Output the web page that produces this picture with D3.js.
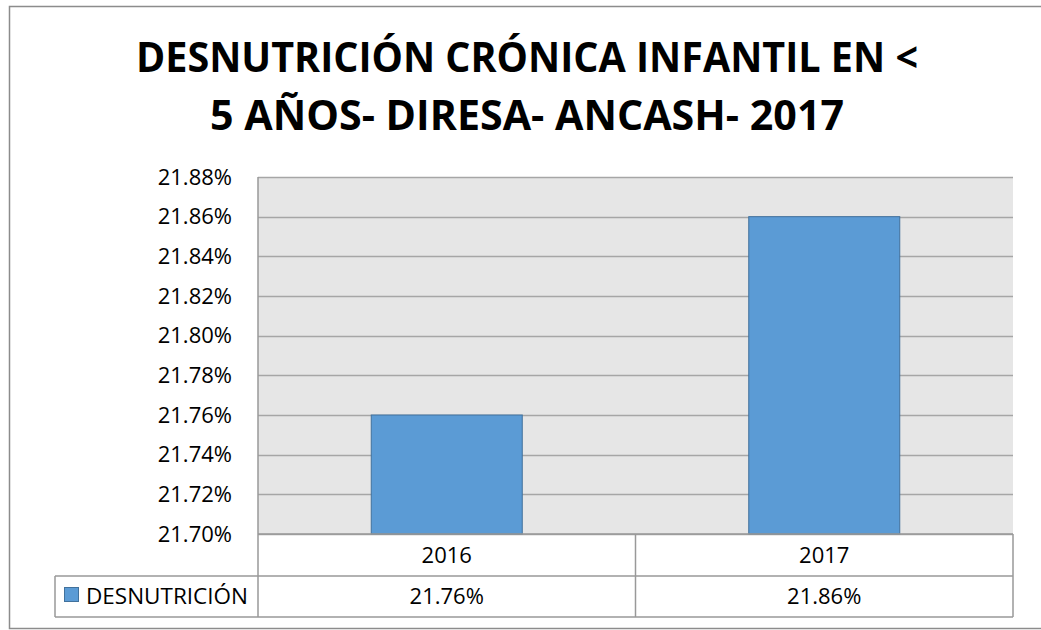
<!DOCTYPE html>
<html><head><meta charset="utf-8">
<script src="https://cdn.jsdelivr.net/npm/d3@7"></script>
<style>
html,body{margin:0;padding:0;background:#fff;}
svg{display:block;}
text{font-family:"Open Sans","Lato","Liberation Sans",sans-serif;fill:#000;}
</style></head>
<body>
<script>
const titleLines = ["DESNUTRICIÓN CRÓNICA INFANTIL EN <", "5 AÑOS- DIRESA- ANCASH- 2017"];
const seriesName = "DESNUTRICIÓN";
const categories = ["2016", "2017"];
const values = [0.2176, 0.2186];
const tickValues = [0.2170, 0.2172, 0.2174, 0.2176, 0.2178, 0.2180, 0.2182, 0.2184, 0.2186, 0.2188];

const W = 1041, H = 630;
const FS = "22px";
const svg = d3.select("body").append("svg").attr("width", W).attr("height", H);

// outer chart border
svg.append("rect").attr("x", 9.5).attr("y", 6.5).attr("width", 1100).attr("height", 622)
  .attr("fill", "#fff").attr("stroke", "#8c8c8c").attr("stroke-width", 1.5);

// title
const titleX = 527;
const titleWidths = [782, 634];
const titleBaselines = [72, 130];
titleLines.forEach((t, i) => {
  svg.append("text").attr("x", titleX).attr("y", titleBaselines[i])
    .attr("text-anchor", "middle")
    .style("font-family", "'Liberation Sans Narrow','Open Sans','Liberation Sans',sans-serif")
    .style("font-weight", "bold").style("font-size", "42px")
    .attr("textLength", titleWidths[i]).attr("lengthAdjust", "spacingAndGlyphs")
    .text(t);
});

const plot = {left: 258, right: 1013, top: 177, bottom: 534};
const y = d3.scaleLinear().domain([0.2170, 0.2188]).range([plot.bottom, plot.top]);
const x = d3.scaleBand().domain(categories).range([plot.left, plot.right])
  .paddingInner(0.6).paddingOuter(0.3);
const xCell = d3.scaleBand().domain(categories).range([plot.left, plot.right]).padding(0);

// plot background
svg.append("rect").attr("x", plot.left).attr("y", plot.top)
  .attr("width", plot.right - plot.left).attr("height", plot.bottom - plot.top)
  .attr("fill", "#e6e6e6");

// gridlines
svg.append("g").selectAll("line").data(tickValues).join("line")
  .attr("x1", plot.left).attr("x2", plot.right)
  .attr("y1", d => Math.round(y(d)) + 0.5).attr("y2", d => Math.round(y(d)) + 0.5)
  .attr("stroke", "#a6a6a6").attr("stroke-width", 1.5);

// y axis labels
const yAxis = d3.axisLeft(y).tickValues(tickValues).tickFormat(d3.format(".2%")).tickSize(0).tickPadding(26);
const ya = svg.append("g").attr("transform", `translate(${plot.left},0)`).call(yAxis);
ya.select(".domain").remove();
ya.selectAll("text").style("font-size", FS).style("font-family", "'Open Sans','Lato','Liberation Sans',sans-serif").attr("fill", "#000");

// bars
svg.append("g").selectAll("rect").data(categories).join("rect")
  .attr("x", d => x(d)).attr("width", x.bandwidth())
  .attr("y", (d, i) => y(values[i])).attr("height", (d, i) => y(0.2170) - y(values[i]))
  .attr("fill", "#5b9bd5").attr("stroke", "#41719c").attr("stroke-width", 1);

// data table
const rowTop = plot.bottom, rowMid = 576, rowBot = 617, legLeft = 55;
const gl = svg.append("g").attr("stroke", "#999").attr("stroke-width", 1.5).attr("fill", "none");
gl.append("line").attr("x1", plot.left).attr("x2", plot.right).attr("y1", rowTop).attr("y2", rowTop);
gl.append("line").attr("x1", legLeft).attr("x2", plot.right).attr("y1", rowMid).attr("y2", rowMid);
gl.append("line").attr("x1", legLeft).attr("x2", plot.right).attr("y1", rowBot).attr("y2", rowBot);
gl.append("line").attr("x1", legLeft).attr("x2", legLeft).attr("y1", rowMid).attr("y2", rowBot);
gl.append("line").attr("x1", plot.left).attr("x2", plot.left).attr("y1", plot.top).attr("y2", rowBot);
gl.append("line").attr("x1", plot.right).attr("x2", plot.right).attr("y1", rowTop).attr("y2", rowBot);
gl.selectAll("line.sep").data(categories.slice(1)).join("line").attr("class", "sep")
  .attr("x1", d => xCell(d)).attr("x2", d => xCell(d)).attr("y1", rowTop).attr("y2", rowBot);

const fmt = d3.format(".2%");
svg.append("g").selectAll("text").data(categories).join("text")
  .attr("x", d => xCell(d) + xCell.bandwidth() / 2).attr("y", (rowTop + rowMid) / 2)
  .attr("dy", "0.35em").attr("text-anchor", "middle").style("font-size", FS)
  .text(d => d);
svg.append("g").selectAll("text").data(categories).join("text")
  .attr("x", d => xCell(d) + xCell.bandwidth() / 2).attr("y", (rowMid + rowBot) / 2)
  .attr("dy", "0.35em").attr("text-anchor", "middle").style("font-size", FS)
  .text((d, i) => fmt(values[i]));

// legend key
svg.append("rect").attr("x", 64.5).attr("y", 587.5).attr("width", 14).attr("height", 14)
  .attr("fill", "#5b9bd5").attr("stroke", "#41719c").attr("stroke-width", 1);
svg.append("text").attr("x", 86).attr("y", (rowMid + rowBot) / 2).attr("dy", "0.35em")
  .style("font-size", FS).attr("textLength", 162).attr("lengthAdjust", "spacingAndGlyphs")
  .text(seriesName);
</script>
</body></html>
